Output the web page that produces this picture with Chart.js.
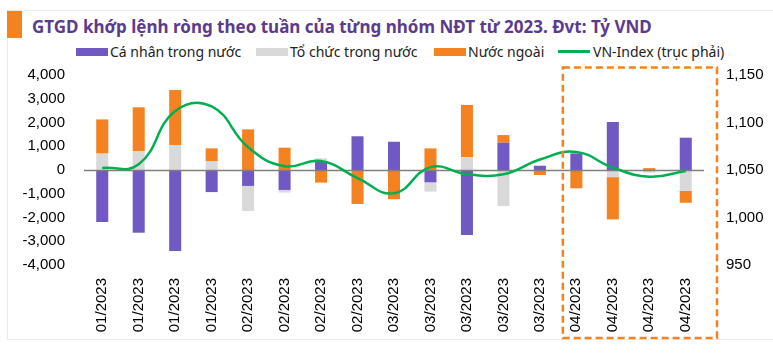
<!DOCTYPE html>
<html>
<head>
<meta charset="utf-8">
<script src="https://cdn.jsdelivr.net/npm/chart.js@4.4.0/dist/chart.umd.min.js"></script>
<style>
  body { margin: 0; background: #fff; }
  #wrap { position: relative; width: 773px; height: 358px; overflow: hidden; }
  #frame { position: absolute; left: 7px; top: 10px; width: 800px; height: 330px; border: 1px solid #ebebeb; box-sizing: border-box; }
  #mark { position: absolute; left: 7px; top: 11px; width: 15px; height: 27px; background: #f58220; }
  #title { position: absolute; left: 32px; top: 18px; font: bold 17px "Noto Sans", sans-serif; line-height: 17px; color: #5b3b8c; white-space: nowrap; }
  .item { position: absolute; top: 44.5px; height: 14px; line-height: 14px; display: flex; align-items: center; font: 14px "Noto Sans", sans-serif; color: #222; white-space: nowrap; }
  .item i { display: inline-block; width: 32px; height: 8px; margin-right: 2px; }
  .item i.ln { height: 3px; margin-right: 3px; }
  canvas { position: absolute; left: 0; top: 0; }
</style>
</head>
<body>
<div id="wrap">
  <div id="frame"></div>
  <div id="mark"></div>
  <div id="title">GTGD khớp lệnh ròng theo tuần của từng nhóm NĐT từ 2023. Đvt: Tỷ VND</div>
  <div class="item" style="left:76px"><i style="background:#7059c2"></i>Cá nhân trong nước</div>
  <div class="item" style="left:256px"><i style="background:#d9d9d9"></i>Tổ chức trong nước</div>
  <div class="item" style="left:434px"><i style="background:#f58220"></i>Nước ngoài</div>
  <div class="item" style="left:558px"><i class="ln" style="background:#00b050"></i>VN-Index (trục phải)</div>
  <canvas id="chart" width="773" height="358"></canvas>
</div>
<script>
const weeks = ['01/2023', '01/2023', '01/2023', '01/2023',
               '02/2023', '02/2023', '02/2023', '02/2023',
               '03/2023', '03/2023', '03/2023', '03/2023', '03/2023',
               '04/2023', '04/2023', '04/2023', '04/2023'];

const caNhan    = [-2190, -2640, -3410, -930, -670, -840, 380, 1420, 1190, -520, -2740, 1150, 180, 700, 2020, 0, 1360];
const toChuc    = [690, 800, 1050, 380, -1060, -110, 110, 0, -40, -390, 540, -1520, 0, 0, -300, -110, -880];
const nuocNgoai = [1440, 1840, 2320, 530, 1710, 940, -530, -1430, -1190, 910, 2200, 320, -210, -770, -1780, 80, -500];
const vnIndex   = [1052, 1056, 1112, 1117, 1074, 1054, 1059.5, 1041.5, 1025.5, 1053, 1045.5, 1045.5, 1061, 1069, 1052.5, 1043, 1049];

const leftTicks  = [-4000, -3000, -2000, -1000, 0, 1000, 2000, 3000, 4000];
const rightTicks = [950, 1000, 1050, 1100, 1150];

const tickFont = { family: 'Liberation Sans', size: 15 };

// zero line is drawn over the bars but under the VN-Index line
const zeroLine = {
    id: 'zeroLine',
    beforeDatasetDraw(chart, args) {
        if (args.meta.type !== 'line') return;
        const { ctx, chartArea, scales: { y } } = chart;
        const py = Math.round(y.getPixelForValue(0)) + 0.5;
        ctx.save();
        ctx.strokeStyle = '#7f7f7f';
        ctx.lineWidth = 1.5;
        ctx.beginPath();
        ctx.moveTo(chartArea.left, py);
        ctx.lineTo(chartArea.right, py);
        ctx.stroke();
        ctx.restore();
    }
};

// orange dashed frame around the April weeks
const highlightBox = {
    id: 'highlightBox',
    afterDraw(chart) {
        const { ctx, chartArea, scales: { x } } = chart;
        const step = x.getPixelForValue(1) - x.getPixelForValue(0);
        const left = x.getPixelForValue(weeks.indexOf('04/2023')) - step * 0.37;
        const right = chartArea.right + 13;
        const top = chartArea.top - 7.5;
        const bottom = chartArea.bottom + 73;
        ctx.save();
        ctx.strokeStyle = '#f58220';
        ctx.lineWidth = 2.5;
        ctx.setLineDash([7, 4]);
        ctx.strokeRect(left, top, right - left, bottom - top);
        ctx.restore();
    }
};

const ctx = document.getElementById('chart').getContext('2d');
new Chart(ctx, {
    data: {
        labels: weeks,
        datasets: [
            {
                type: 'line',
                label: 'VN-Index (trục phải)',
                data: vnIndex,
                yAxisID: 'y1',
                borderColor: '#00b050',
                borderWidth: 2.5,
                pointRadius: 0,
                tension: 0.45,
                order: 0
            },
            {
                type: 'bar',
                label: 'Cá nhân trong nước',
                data: caNhan,
                backgroundColor: '#7059c2',
                yAxisID: 'y',
                order: 1
            },
            {
                type: 'bar',
                label: 'Tổ chức trong nước',
                data: toChuc,
                backgroundColor: '#d9d9d9',
                yAxisID: 'y',
                order: 1
            },
            {
                type: 'bar',
                label: 'Nước ngoài',
                data: nuocNgoai,
                backgroundColor: '#f58220',
                yAxisID: 'y',
                order: 1
            }
        ]
    },
    options: {
        responsive: false,
        animation: false,
        barPercentage: 0.33,
        categoryPercentage: 1,
        layout: { padding: { top: 75, bottom: 0, left: 0, right: 0 } },
        plugins: {
            legend: { display: false },
            tooltip: { enabled: false }
        },
        scales: {
            x: {
                stacked: true,
                grid: { display: false, drawTicks: false },
                border: { display: false },
                ticks: { minRotation: 90, maxRotation: 90, autoSkip: false, padding: 13, font: tickFont, color: '#000' },
                afterFit: s => { s.height = 93; }
            },
            y: {
                stacked: true,
                position: 'left',
                min: leftTicks[0],
                max: leftTicks[leftTicks.length - 1],
                grid: { display: false, drawTicks: false },
                border: { display: false },
                ticks: { stepSize: leftTicks[1] - leftTicks[0], padding: 19, font: tickFont, color: '#000' },
                afterFit: s => { s.width = 84; }
            },
            y1: {
                position: 'right',
                min: rightTicks[0],
                max: rightTicks[rightTicks.length - 1],
                grid: { display: false, drawTicks: false },
                border: { display: false },
                ticks: { stepSize: rightTicks[1] - rightTicks[0], padding: 22, font: tickFont, color: '#000' },
                afterFit: s => { s.width = 69; }
            }
        }
    },
    plugins: [zeroLine, highlightBox]
});
</script>
</body>
</html>
